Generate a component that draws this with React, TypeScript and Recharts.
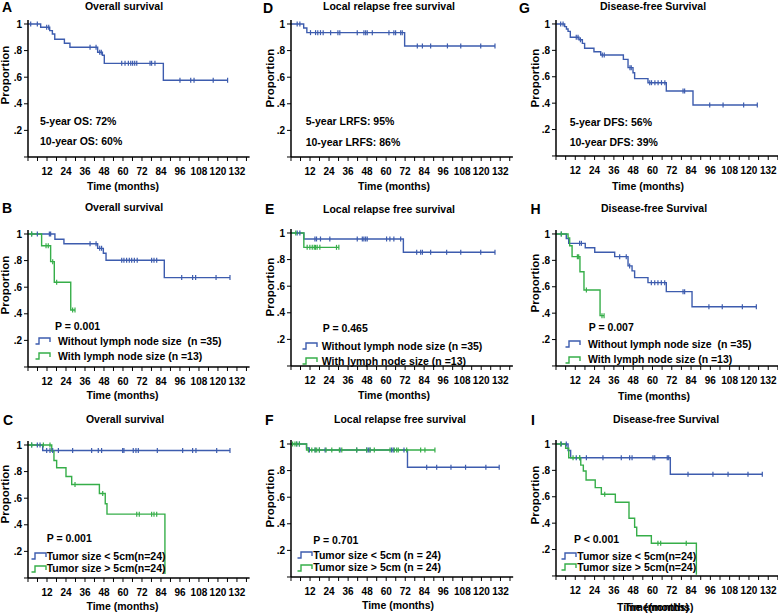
import { ComposedChart, Line, XAxis, YAxis } from "recharts";

const BLUE = "#3d5cae";
const GREEN = "#36ae49";
const FONT = '"Liberation Sans", Arial, Helvetica, sans-serif';

const X_MAX = 140;
const Y_MAX = 1.03;
const xTicks = [0, 6, 12, 18, 24, 30, 36, 42, 48, 54, 60, 66, 72, 78, 84, 90, 96, 102, 108, 114, 120, 126, 132, 138];
const yTicks = [0, 0.2, 0.4, 0.6, 0.8, 1];

// each step is [months, proportion] after a drop; censored = months
// A - overall survival
const osAllSteps = [[0, 1], [8, 0.975], [13.7, 0.95], [15.4, 0.925], [16.9, 0.885], [23, 0.855], [26.5, 0.825], [44, 0.787], [47, 0.765], [48.2, 0.704], [85.5, 0.577]];
const osAllCens = [1.7, 5.9, 11.8, 13.1, 39.2, 43, 45.3, 46.3, 59.2, 61.3, 63.4, 64.9, 66.1, 67.4, 68.7, 77.1, 78.1, 80.2, 96, 102.8, 104.9, 117, 126.1];

// D - local relapse free survival
const lrfsAllSteps = [[0, 1], [8, 0.97], [10, 0.935], [71.7, 0.835]];
const lrfsAllCens = [3.9, 5.6, 12.3, 15.5, 16.9, 18.6, 20.3, 25, 29.6, 30.8, 41.8, 46, 47.1, 48.1, 51.3, 61.8, 64.9, 66, 69.2, 70.2, 79.7, 82.9, 88.1, 98.7, 107.1, 119.7, 128.7];

// G - disease-free survival
const dfsAllSteps = [[0, 1], [5.4, 0.98], [6.5, 0.962], [7.5, 0.944], [8.9, 0.899], [14.3, 0.88], [16.4, 0.853], [17.8, 0.816], [23.6, 0.79], [27.8, 0.765], [41.9, 0.732], [44.8, 0.669], [47.9, 0.63], [48.9, 0.586], [57.2, 0.555], [68.6, 0.492], [85.2, 0.386]];
const dfsAllCens = [2.9, 4.4, 12.6, 13.7, 15.2, 28.8, 30, 46, 46.8, 58.3, 59.4, 61.5, 63.5, 65.6, 67.7, 79, 80, 95.6, 103.9, 116.7, 125.2];

// B - OS by lymph node
const osNoLnSteps = [[0, 1], [17, 0.96], [22.7, 0.927], [44, 0.892], [47.6, 0.855], [49.3, 0.802], [86.1, 0.672]];
const osNoLnCens = [2.3, 5.9, 13.5, 14.3, 39.2, 43, 45.3, 46.5, 59.2, 60.6, 62.3, 64, 65.5, 67.2, 69, 78.1, 79.6, 81.3, 97.1, 104, 105.9, 118.8, 127.6];
const osLnSteps = [[0, 1], [8.6, 0.912], [14.3, 0.792], [16.6, 0.637], [27, 0.429]];
const osLnCens = [2.3, 11.4, 12.8, 15.6, 18.1, 28.2, 29.7];

// E - LRFS by lymph node
const lrfsNoLnSteps = [[0, 1], [8.1, 0.955], [70.9, 0.855]];
const lrfsNoLnCens = [3.9, 5.6, 15.1, 16.1, 18.6, 24.5, 41.8, 45, 46, 47.1, 48.1, 60.3, 62.4, 64.9, 69.2, 79.3, 81.8, 82.9, 88.1, 98.2, 107.1, 119.7, 128.7];
const lrfsLnSteps = [[0, 1], [8.1, 0.892]];
const lrfsLnCens = [3, 10.2, 11.9, 13.4, 14.7, 15.5, 16.5, 18.2, 28.7, 30.2];

// H - DFS by lymph node
const dfsNoLnSteps = [[0, 1], [6.4, 0.965], [7.9, 0.929], [18.2, 0.896], [24.1, 0.861], [36.5, 0.828], [44.8, 0.758], [47.3, 0.72], [48.9, 0.669], [57.2, 0.631], [68.6, 0.563], [84.6, 0.449]];
const dfsNoLnCens = [3.3, 14.7, 15.8, 39.6, 43.7, 45.8, 59.3, 61.4, 63.4, 65.5, 67.6, 79, 80, 95.1, 103.4, 115.9, 124.6];
const dfsLnSteps = [[0, 1], [7.5, 0.97], [8.5, 0.911], [10, 0.828], [14.9, 0.714], [17.4, 0.576], [27.4, 0.381]];
const dfsLnCens = [3.3, 13.3, 14.1, 18.9, 28.6, 29.9];

// C - OS by tumor size
const osSmallSteps = [[0, 1], [9.3, 0.959]];
const osSmallCens = [2.3, 5.9, 7.6, 11.8, 13.9, 15.6, 19.2, 28.2, 40.2, 44.4, 46.5, 59.8, 60.6, 66.5, 68.2, 69.7, 81.7, 97.7, 104, 106.1, 119.2, 127.6];
const osLargeSteps = [[0, 1], [15, 0.955], [16.4, 0.883], [18.1, 0.829], [24, 0.763], [27.6, 0.703], [45.1, 0.635], [48.8, 0.558], [49.9, 0.48], [86.5, 0.03]];
const osLargeCens = [2.3, 9.7, 13.9, 29.7, 47.2, 68.7, 70.3, 78.1, 79.6, 81.3];

// F - LRFS by tumor size
const lrfsSmallSteps = [[0, 1], [9.8, 0.97], [11.2, 0.955], [73.4, 0.825]];
const lrfsSmallCens = [3.6, 5.3, 11.6, 15.2, 17.9, 21.5, 30.9, 41.4, 47.7, 48.7, 49.8, 63.4, 64.4, 71.2, 85.5, 91.8, 100.8, 110, 122.8, 131.2];
const lrfsLargeSteps = [[0, 1], [9.8, 0.955]];
const lrfsLargeCens = [1, 2.5, 3.6, 5.3, 11, 13.1, 15.2, 16.2, 17.9, 22.1, 25.7, 30.5, 32, 41.4, 47.7, 49.8, 52.5, 62.4, 65.1, 66.6, 67.6, 72.9, 81.7, 84.4, 90.7];

// I - DFS by tumor size
const dfsSmallSteps = [[0, 1], [7.5, 0.95], [9.1, 0.896], [71.1, 0.77]];
const dfsSmallCens = [3.3, 6.4, 12.6, 14.7, 18.9, 29.2, 40.6, 45.8, 47.3, 60.3, 61.4, 69.2, 70.1, 82.1, 97.6, 107, 119.4, 128.3];
const dfsLargeSteps = [[0, 1], [6, 0.967], [7.9, 0.896], [15.4, 0.84], [17, 0.795], [18.7, 0.727], [24.4, 0.669], [28.2, 0.619], [36.9, 0.558], [45.4, 0.437], [48.9, 0.369], [50.2, 0.305], [59.3, 0.248], [87.3, 0.01]];
const dfsLargeCens = [2.9, 10.6, 14.7, 30.3, 63.4, 65.1, 81];

type Pt = { t: number; s: number; c: boolean };

function buildCurve(steps: number[][], censored: number[]): Pt[] {
  const valueAt = (t: number) => {
    let v = 1;
    for (const [st, sv] of steps) if (st <= t) v = sv;
    return v;
  };
  const pts: Pt[] = steps.map(([t, s]) => ({ t, s, c: false }));
  censored.forEach((t) => pts.push({ t, s: valueAt(t), c: true }));
  pts.sort((a, b) => a.t - b.t);
  return pts;
}

const censorDot = (color: string) => (props: any) => {
  const { cx, cy, payload, index } = props;
  if (!payload || !payload.c || cx == null || cy == null) return <g key={index} />;
  return <line key={index} x1={cx} x2={cx} y1={cy - 2.5} y2={cy + 2.5} stroke={color} strokeWidth={1.2} />;
};

const fmtY = (v: number) => (v === 0 ? "" : v === 1 ? "1" : "." + Math.round(v * 10));
const fmtX = (v: number) => (v > 0 && v % 12 === 0 ? String(v) : "");

const Y_AXIS_W = 30;
const TOP = 4;
const X_AXIS_H = 26;

type Curve = { steps: number[][]; cens: number[]; color: string };

function KMPanel({ L, zeroY, sx, sy, curves }: { L: number; zeroY: number; sx: number; sy: number; curves: Curve[] }) {
  const pw = X_MAX * sx;
  const ph = Y_MAX * sy;
  const tick = { fontSize: 10, fontWeight: "bold", fill: "#000", fontFamily: FONT };
  return (
    <div style={{ position: "absolute", left: L - Y_AXIS_W, top: zeroY - ph - TOP }}>
      <ComposedChart width={Y_AXIS_W + pw + 4} height={TOP + ph + X_AXIS_H} margin={{ top: TOP, right: 4, bottom: 0, left: 0 }}>
        <XAxis
          type="number"
          dataKey="t"
          domain={[0, X_MAX]}
          ticks={xTicks}
          interval={0}
          allowDataOverflow
          tickFormatter={fmtX}
          tick={tick}
          tickSize={4}
          tickMargin={7}
          height={X_AXIS_H}
          axisLine={{ stroke: "#000", strokeWidth: 1.5 }}
          tickLine={{ stroke: "#000", strokeWidth: 1 }}
        />
        <YAxis
          type="number"
          dataKey="s"
          domain={[0, Y_MAX]}
          ticks={yTicks}
          interval={0}
          allowDataOverflow
          tickFormatter={fmtY}
          tick={tick}
          tickSize={4}
          tickMargin={2}
          width={Y_AXIS_W}
          axisLine={{ stroke: "#000", strokeWidth: 1.5 }}
          tickLine={{ stroke: "#000", strokeWidth: 1 }}
        />
        {curves.map((c, i) => (
          <Line
            key={i}
            data={buildCurve(c.steps, c.cens)}
            dataKey="s"
            type="stepAfter"
            stroke={c.color}
            strokeWidth={1.4}
            dot={censorDot(c.color)}
            activeDot={false}
            isAnimationActive={false}
          />
        ))}
      </ComposedChart>
    </div>
  );
}

function T({ x, y, children, size = 10.5, center = false, rotate = false }: any) {
  return (
    <div
      style={{
        position: "absolute",
        left: x,
        top: y,
        transform: `translate(${center ? "-50%" : "0"}, -50%)${rotate ? " rotate(-90deg)" : ""}`,
        fontSize: size,
        fontWeight: "bold",
        fontFamily: FONT,
        whiteSpace: "pre",
        lineHeight: 1,
        color: "#000",
      }}
    >
      {children}
    </div>
  );
}

function StepIcon({ x, y, color }: { x: number; y: number; color: string }) {
  return (
    <svg width={16} height={8} style={{ position: "absolute", left: x, top: y - 4 }}>
      <path d="M0.5,7 H4 V1 H15 V5" fill="none" stroke={color} strokeWidth={1.4} />
    </svg>
  );
}

export default function App() {
  return (
    <div style={{ position: "absolute", left: 0, top: 0, width: 778, height: 613, overflow: "hidden", background: "#fff" }}>
      {/* row 1 */}
      <KMPanel L={28} zeroY={157} sx={1.583} sy={133} curves={[{ steps: osAllSteps, cens: osAllCens, color: BLUE }]} />
      <KMPanel L={290.7} zeroY={157} sx={1.585} sy={133} curves={[{ steps: lrfsAllSteps, cens: lrfsAllCens, color: BLUE }]} />
      <KMPanel L={556} zeroY={156} sx={1.608} sy={132} curves={[{ steps: dfsAllSteps, cens: dfsAllCens, color: BLUE }]} />
      {/* row 2 */}
      <KMPanel L={28} zeroY={367} sx={1.583} sy={133} curves={[{ steps: osNoLnSteps, cens: osNoLnCens, color: BLUE }, { steps: osLnSteps, cens: osLnCens, color: GREEN }]} />
      <KMPanel L={290.7} zeroY={366} sx={1.585} sy={133} curves={[{ steps: lrfsNoLnSteps, cens: lrfsNoLnCens, color: BLUE }, { steps: lrfsLnSteps, cens: lrfsLnCens, color: GREEN }]} />
      <KMPanel L={556} zeroY={366} sx={1.608} sy={132} curves={[{ steps: dfsNoLnSteps, cens: dfsNoLnCens, color: BLUE }, { steps: dfsLnSteps, cens: dfsLnCens, color: GREEN }]} />
      {/* row 3 */}
      <KMPanel L={28} zeroY={578} sx={1.583} sy={133} curves={[{ steps: osSmallSteps, cens: osSmallCens, color: BLUE }, { steps: osLargeSteps, cens: osLargeCens, color: GREEN }]} />
      <KMPanel L={290.7} zeroY={577} sx={1.587} sy={133} curves={[{ steps: lrfsSmallSteps, cens: lrfsSmallCens, color: BLUE }, { steps: lrfsLargeSteps, cens: lrfsLargeCens, color: GREEN }]} />
      <KMPanel L={556} zeroY={576} sx={1.608} sy={132} curves={[{ steps: dfsSmallSteps, cens: dfsSmallCens, color: BLUE }, { steps: dfsLargeSteps, cens: dfsLargeCens, color: GREEN }]} />

      {/* panel letters */}
      <T x={2} y={7} size={14}>A</T>
      <T x={263} y={8} size={14}>D</T>
      <T x={519} y={7.5} size={14}>G</T>
      <T x={2} y={208} size={14}>B</T>
      <T x={265} y={208.7} size={14}>E</T>
      <T x={530.5} y={208.7} size={14}>H</T>
      <T x={3} y={419.5} size={14}>C</T>
      <T x={265} y={419.5} size={14}>F</T>
      <T x={531} y={420} size={14}>I</T>

      {/* titles */}
      <T x={124} y={6} center>Overall survival</T>
      <T x={389} y={6} center>Local relapse free survival</T>
      <T x={653} y={6} center>Disease-free Survival</T>
      <T x={124} y={207} center>Overall survival</T>
      <T x={389} y={209} center>Local relapse free survival</T>
      <T x={654} y={208} center>Disease-free Survival</T>
      <T x={125} y={419} center>Overall survival</T>
      <T x={400} y={418.5} center>Local relapse free survival</T>
      <T x={666} y={418.5} center>Disease-free Survival</T>

      {/* y labels */}
      <T x={6} y={75} size={11.5} center rotate>Proportion</T>
      <T x={271} y={78} size={11.5} center rotate>Proportion</T>
      <T x={535.5} y={77.5} size={11.5} center rotate>Proportion</T>
      <T x={6} y={285} size={11.5} center rotate>Proportion</T>
      <T x={271} y={287} size={11.5} center rotate>Proportion</T>
      <T x={535.5} y={283} size={11.5} center rotate>Proportion</T>
      <T x={6} y={494} size={11.5} center rotate>Proportion</T>
      <T x={271} y={498} size={11.5} center rotate>Proportion</T>
      <T x={535.5} y={495} size={11.5} center rotate>Proportion</T>

      {/* x labels (panel I shows two overlapping copies, as in the source figure) */}
      <T x={123} y={186} center>Time (months)</T>
      <T x={394} y={186} center>Time (months)</T>
      <T x={648} y={186} center>Time (months)</T>
      <T x={122.5} y={395} center>Time (months)</T>
      <T x={394} y={395} center>Time (months)</T>
      <T x={654} y={396} center>Time (months)</T>
      <T x={122.5} y={606} center>Time (months)</T>
      <T x={398} y={605} center>Time (months)</T>
      <T x={653} y={607} center>Time (months)</T>
      <T x={659} y={607} center>Time(months)</T>

      {/* row 1 annotations */}
      <T x={40} y={121}>5-year OS: 72%</T>
      <T x={40} y={141}>10-year OS: 60%</T>
      <T x={305.7} y={121}>5-year LRFS: 95%</T>
      <T x={305.7} y={141.5}>10-year LRFS: 86%</T>
      <T x={569.7} y={121.5}>5-year DFS: 56%</T>
      <T x={569.7} y={141.5}>10-year DFS: 39%</T>

      {/* B legend */}
      <T x={55} y={325.7}>P = 0.001</T>
      <StepIcon x={35} y={341} color={BLUE} />
      <T x={58} y={340.7}>Without lymph node size  (n =35)</T>
      <StepIcon x={35} y={356} color={GREEN} />
      <T x={58} y={355.7}>With lymph node size (n =13)</T>

      {/* E legend */}
      <T x={322.7} y={327.7}>P = 0.465</T>
      <StepIcon x={301.7} y={346} color={BLUE} />
      <T x={321.7} y={345.7}>Without lymph node size (n =35)</T>
      <StepIcon x={301.7} y={361} color={GREEN} />
      <T x={321.7} y={360.7}>With lymph node size (n =13)</T>

      {/* H legend */}
      <T x={588.7} y={326.7}>P = 0.007</T>
      <StepIcon x={564.7} y={344.3} color={BLUE} />
      <T x={588} y={344}>Without lymph node size  (n =35)</T>
      <StepIcon x={564.7} y={359.6} color={GREEN} />
      <T x={588} y={359.3}>With lymph node size (n =13)</T>

      {/* C legend */}
      <T x={46.7} y={537.7}>P = 0.001</T>
      <StepIcon x={30.7} y={556} color={BLUE} />
      <T x={46.7} y={555.7}>Tumor size &lt; 5cm(n=24)</T>
      <StepIcon x={30.7} y={568.6} color={GREEN} />
      <T x={46.7} y={568.3}>Tumor size &gt; 5cm(n=24)</T>

      {/* F legend */}
      <T x={313.3} y={540}>P = 0.701</T>
      <StepIcon x={296.7} y={555.3} color={BLUE} />
      <T x={313.3} y={555}>Tumor size &lt; 5cm (n = 24)</T>
      <StepIcon x={296.7} y={567.6} color={GREEN} />
      <T x={313.3} y={567.3}>Tumor size &gt; 5cm (n = 24)</T>

      {/* I legend */}
      <T x={574} y={539.3}>P &lt; 0.001</T>
      <StepIcon x={560.7} y={556} color={BLUE} />
      <T x={577.3} y={555.7}>Tumor size &lt; 5cm(n=24)</T>
      <StepIcon x={560.7} y={567} color={GREEN} />
      <T x={577.3} y={566.7}>Tumor size &gt; 5cm(n=24)</T>
    </div>
  );
}
